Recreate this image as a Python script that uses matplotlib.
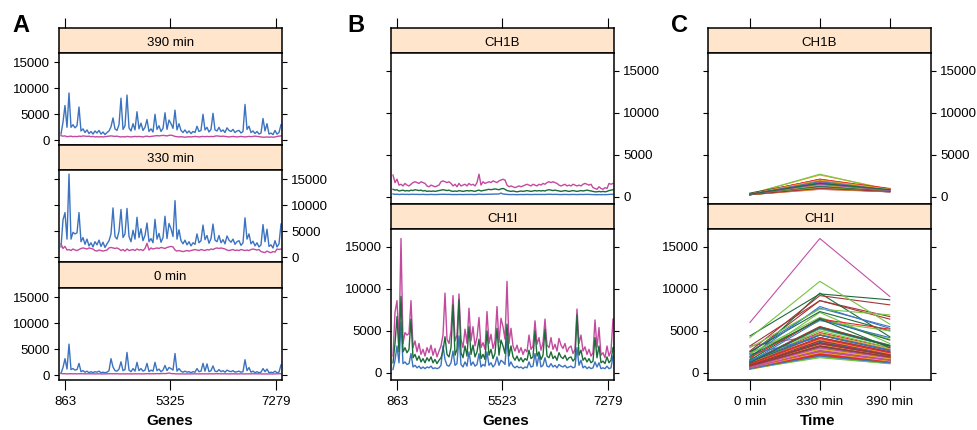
import matplotlib.pyplot as plt

W, H = 978, 430

# gene axis: tick positions (gene index) and their labels
gene_ticks = [2, 54.5, 107.5]
labels_a = ["863", "5325", "7279"]
labels_b = ["863", "5523", "7279"]
times = ["0 min", "330 min", "390 min"]
y_ticks = [0, 5000, 10000, 15000]

# CH1I intensities per gene at 0 / 330 / 390 min
ch1i_0 = [400, 1500, 3200, 1200, 6000, 1100, 1300, 1000, 1100, 2300,
          700, 900, 600, 800, 500, 700, 500, 700, 600, 800,
          500, 600, 500, 600, 900, 3200, 1600, 900, 800, 1200,
          2600, 900, 1100, 4400, 1000, 700, 1300, 800, 2500, 900,
          1300, 800, 1000, 2300, 700, 1000, 800, 2500, 900, 1200,
          700, 1000, 1900, 900, 1500, 1300, 1000, 4200, 800, 1300,
          800, 600, 800, 600, 700, 500, 700, 600, 1300, 700,
          800, 2300, 800, 2200, 700, 900, 1800, 800, 700, 1100,
          700, 900, 600, 1000, 800, 700, 900, 600, 700, 800,
          600, 700, 3000, 900, 1500, 600, 800, 500, 700, 500,
          600, 1300, 700, 1200, 500, 600, 500, 800, 500, 600, 2000]
ch1i_330 = [2000, 7200, 8600, 3500, 16000, 3500, 4800, 4500, 4700, 8600,
            3000, 3800, 2500, 3500, 2200, 2800, 2000, 3000, 2400, 3300,
            2100, 2900, 1900, 2600, 3200, 4500, 9500, 4000, 3500, 5000,
            9200, 3800, 4500, 9400, 4000, 3000, 5200, 3500, 7700, 3800,
            5500, 3200, 4200, 6600, 3000, 3600, 2800, 7300, 3500, 4600,
            2900, 3800, 7900, 3600, 6500, 5500, 4000, 10900, 3500, 5300,
            3200, 2600, 3300, 2400, 3000, 2200, 2800, 2500, 4500, 2800,
            3200, 6200, 3400, 4200, 2700, 3600, 6400, 3300, 3000, 4200,
            2800, 3400, 2600, 4100, 3300, 2900, 3500, 2500, 3000, 3200,
            2300, 2800, 7600, 3500, 4500, 2600, 3100, 2200, 2800, 2000,
            2400, 6300, 3000, 5400, 2100, 2400, 1800, 3200, 2000, 2600, 6400]
ch1i_390 = [1200, 3500, 6700, 2500, 9100, 2500, 3000, 2400, 2800, 6400,
            1800, 2200, 1500, 2000, 1300, 1700, 1200, 1800, 1400, 1900,
            1200, 1600, 1100, 1500, 1800, 2600, 4300, 2200, 1900, 3000,
            8100, 2100, 2800, 8700, 2400, 1800, 3200, 2000, 5500, 2200,
            3300, 1900, 2500, 4000, 1700, 2200, 1600, 5000, 2100, 2800,
            1700, 2300, 5300, 2100, 3900, 3200, 2300, 5800, 2000, 3200,
            1900, 1500, 2000, 1400, 1800, 1300, 1700, 1500, 2700, 1700,
            1900, 5000, 2000, 2500, 1600, 2100, 5200, 2000, 1800, 2500,
            1700, 2000, 1500, 2400, 1900, 1700, 2100, 1500, 1800, 1900,
            1400, 1700, 6900, 2100, 2700, 1500, 1800, 1300, 1700, 1200,
            1400, 4200, 1800, 3200, 1200, 1400, 1100, 1900, 1200, 1500, 3000]

# CH1B intensities per gene at 0 / 330 / 390 min
ch1b_0 = [350, 300, 320, 280, 300, 310, 290, 300, 280, 300,
          310, 290, 300, 280, 290, 300, 280, 270, 280, 290,
          280, 270, 280, 290, 300, 310, 300, 290, 300, 280,
          270, 280, 270, 290, 280, 270, 280, 290, 280, 290,
          280, 270, 290, 320, 300, 290, 300, 310, 320, 310,
          330, 340, 330, 350, 450, 340, 320, 290, 280, 270,
          280, 270, 260, 270, 280, 270, 280, 290, 280, 270,
          280, 290, 280, 290, 280, 290, 280, 300, 310, 300,
          290, 300, 290, 280, 270, 280, 290, 280, 270, 280,
          290, 280, 270, 280, 290, 280, 290, 300, 290, 280,
          270, 260, 260, 270, 260, 270, 260, 270, 290, 300, 310]
ch1b_330 = [2600, 1700, 2100, 1400, 1500, 1300, 1600, 1400, 1300, 1500,
            1700, 1800, 1700, 1600, 1800, 1700, 1600, 1300, 1200, 1400,
            1300, 1200, 1300, 1400, 1800, 1900, 1800, 1700, 1800, 1600,
            1300, 1500, 1200, 1600, 1300, 1400, 1500, 1300, 1600, 1400,
            1500, 1300, 1700, 2700, 1400, 1800, 1600, 1700, 1800, 1700,
            1900, 1800, 1700, 1900, 2000, 2100, 2000, 1400, 1200, 1300,
            1200, 1100, 1200, 1300, 1200, 1300, 1400, 1500, 1400, 1300,
            1500, 1400, 1300, 1500, 1400, 1600, 1500, 1700, 1800, 1700,
            1800, 1700, 1600, 1400, 1300, 1400, 1500, 1300, 1400, 1300,
            1500, 1400, 1300, 1400, 1300, 1500, 1600, 1500, 1400, 1500,
            1100, 1000, 900, 1200, 1000, 900, 1100, 1000, 1600, 1500, 1600]
ch1b_390 = [900, 800, 850, 700, 750, 800, 700, 750, 700, 800,
            750, 850, 800, 750, 800, 700, 750, 650, 700, 650,
            700, 650, 700, 750, 800, 850, 800, 750, 800, 700,
            650, 700, 650, 750, 700, 650, 700, 750, 700, 750,
            700, 650, 750, 800, 700, 750, 800, 850, 900, 850,
            900, 950, 900, 850, 950, 1000, 900, 750, 700, 650,
            700, 650, 600, 650, 700, 650, 700, 750, 700, 650,
            700, 750, 700, 750, 700, 750, 700, 800, 850, 800,
            750, 800, 750, 700, 650, 700, 750, 700, 650, 700,
            750, 700, 650, 700, 750, 700, 750, 800, 750, 700,
            650, 600, 600, 650, 600, 650, 600, 650, 750, 800, 850]

blue = "#3b73c0"
magenta = "#c24a9f"
green = "#1d6b3b"
strip_col = "#ffe5cc"
c_colors = ["#3b75c2", "#c24fa8", "#1e6b3c", "#e8262c", "#f2a02a", "#76c442", "#a33535"]

plt.rcParams['font.family'] = ['Liberation Sans', 'DejaVu Sans']
plt.rcParams['font.size'] = 9.5
plt.rcParams['axes.linewidth'] = 1.1

fig = plt.figure(figsize=(W / 100, H / 100), dpi=100)


def box(x0, y0, x1, y1):
    return fig.add_axes([x0 / W, 1 - y1 / H, (x1 - x0) / W, (y1 - y0) / H])


def strip(x0, y0, x1, y1, label, xlim, ticks=None):
    ax = box(x0, y0, x1, y1)
    ax.set_facecolor(strip_col)
    ax.set_xlim(xlim)
    ax.set_yticks([])
    if ticks is not None:
        ax.set_xticks(ticks)
        ax.tick_params(axis='x', top=True, bottom=False, labeltop=False,
                       labelbottom=False, length=7.2, width=0.8)
    else:
        ax.set_xticks([])
    ax.text(0.5, 0.42, label, transform=ax.transAxes, ha='center', va='center')
    return ax


def plot_box(x0, y0, x1, y1, xlim, ylim, label_side, xticks=None, xlabels=None):
    ax = box(x0, y0, x1, y1)
    ax.set_xlim(xlim)
    ax.set_ylim(ylim)
    ax.set_yticks(y_ticks)
    ax.tick_params(axis='y', left=True, right=True,
                   labelleft=(label_side == 'left'), labelright=(label_side == 'right'),
                   length=3.6, width=0.8, pad=3.0)
    if xticks is not None:
        ax.set_xticks(xticks)
        ax.set_xticklabels(xlabels)
        ax.tick_params(axis='x', length=7.2, width=0.8, pad=4)
    else:
        ax.set_xticks([])
    return ax


genes = list(range(len(ch1i_0)))
gx = (-1, 110.5)
ylim_a = (-900, 16790)
ylim_b = (-850, 17130)

# -------- PANEL A --------
ax_x0, ax_x1 = 59, 282
rows_a = [("390 min", ch1i_390, ch1b_390, 28, 53, 145, 'left'),
          ("330 min", ch1i_330, ch1b_330, 145, 170, 262, 'right'),
          ("0 min", ch1i_0, ch1b_0, 262, 288, 380, 'left')]
for n, (lab, yi, yb, s0, p0, p1, side) in enumerate(rows_a):
    strip(ax_x0, s0, ax_x1, p0, lab, gx, gene_ticks if n == 0 else None)
    last = n == len(rows_a) - 1
    ax = plot_box(ax_x0, p0, ax_x1, p1, gx, ylim_a, side,
                  gene_ticks if last else None, labels_a if last else None)
    ax.plot(genes, yi, color=blue, lw=1.0)
    ax.plot(genes, yb, color=magenta, lw=1.0)

# -------- PANEL B --------
bx0, bx1 = 391, 614
strip(bx0, 28, bx1, 53, "CH1B", gx, gene_ticks)
ax = plot_box(bx0, 53, bx1, 204, gx, ylim_b, 'right')
ax.plot(genes, ch1b_0, color=blue, lw=1.0)
ax.plot(genes, ch1b_330, color=magenta, lw=1.0)
ax.plot(genes, ch1b_390, color=green, lw=1.0)
strip(bx0, 204, bx1, 229, "CH1I", gx)
ax = plot_box(bx0, 229, bx1, 380, gx, ylim_b, 'left', gene_ticks, labels_b)
ax.plot(genes, ch1i_0, color=blue, lw=1.0)
ax.plot(genes, ch1i_330, color=magenta, lw=1.0)
ax.plot(genes, ch1i_390, color=green, lw=1.0)

# -------- PANEL C --------
cx0, cx1 = 708, 931
tx = (-0.6, 2.59)
tpos = [0, 1, 2]
strip(cx0, 28, cx1, 53, "CH1B", tx, tpos)
ax = plot_box(cx0, 53, cx1, 204, tx, ylim_b, 'right')
for k in genes:
    ax.plot(tpos, [ch1b_0[k], ch1b_330[k], ch1b_390[k]],
            color=c_colors[(k + 4) % 7], lw=0.8)
strip(cx0, 204, cx1, 229, "CH1I", tx)
ax = plot_box(cx0, 229, cx1, 380, tx, ylim_b, 'left', tpos, times)
for k in genes:
    ax.plot(tpos, [ch1i_0[k], ch1i_330[k], ch1i_390[k]],
            color=c_colors[(k + 4) % 7], lw=0.8)

# -------- LABELS --------
for x, t in [(170, "Genes"), (506, "Genes"), (818, "Time")]:
    fig.text(x / W, 1 - 425 / H, t, ha='center', va='baseline',
             fontsize=11, fontweight='bold')
for x, t in [(12, "A"), (347, "B"), (671, "C")]:
    fig.text(x / W, 1 - 32 / H, t, ha='left', va='baseline',
             fontsize=17, fontweight='bold')

plt.savefig("out.png", dpi=100)
